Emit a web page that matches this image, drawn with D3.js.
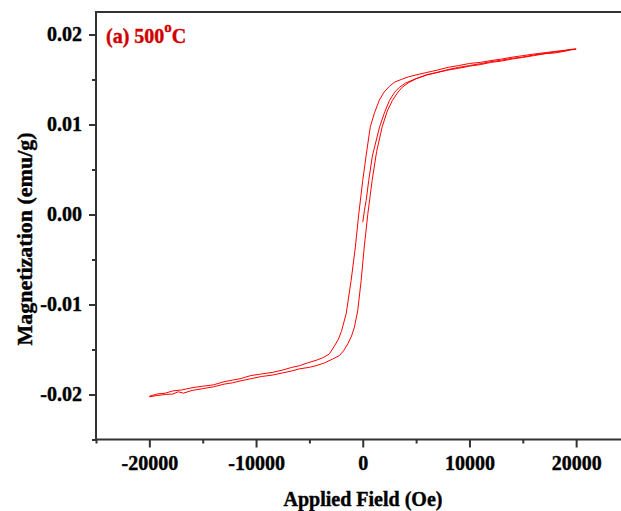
<!DOCTYPE html>
<html>
<head>
<meta charset="utf-8">
<script src="https://cdn.jsdelivr.net/npm/d3@7"></script>
<style>
  html, body { margin: 0; padding: 0; background: #fff; }
  svg { display: block; }
</style>
</head>
<body>
<svg id="chart" width="621" height="511"></svg>
<script>
/* ---- data: M(H) loop, H in Oe, M in emu/g ---- */
const initialCurve = [
  [0, -0.00086], [150, 0.0004], [320, 0.00156], [560, 0.00378], [900, 0.0065],
  [1570, 0.0097], [2000, 0.0112], [2500, 0.01267], [3000, 0.0136], [3440, 0.01414],
  [4000, 0.0146], [5000, 0.0151], [6000, 0.01553], [7000, 0.0158], [8000, 0.0161],
  [9000, 0.01635], [10000, 0.01655], [11000, 0.01675], [12000, 0.01698], [13000, 0.01715],
  [14000, 0.01735], [15000, 0.0175], [16000, 0.01772], [17000, 0.01788], [18000, 0.01805],
  [19000, 0.01822], [20000, 0.0184]
];

const descendingBranch = [
  [20000, 0.01838], [19500, 0.01835], [18800, 0.01822], [18000, 0.01812], [17200, 0.018],
  [16000, 0.01782], [15000, 0.01765], [14000, 0.01748], [13000, 0.01727], [12000, 0.0171],
  [11000, 0.0169], [10000, 0.01678], [9000, 0.01655], [8000, 0.01635], [7000, 0.01605],
  [6000, 0.01578], [5000, 0.01551], [4300, 0.0153], [3600, 0.015], [3000, 0.01472],
  [2500, 0.01425], [2000, 0.0136], [1550, 0.0127], [1100, 0.0113], [700, 0.0097],
  [300, 0.0064], [0, 0.00378], [-380, 0.0], [-700, -0.0037], [-1090, -0.00733],
  [-1550, -0.011], [-2000, -0.013], [-2300, -0.0139], [-2700, -0.0147], [-3120, -0.01548],
  [-3700, -0.0159], [-4370, -0.0162], [-5200, -0.0165], [-5930, -0.0168], [-6700, -0.017],
  [-7500, -0.01728], [-8500, -0.01755], [-9500, -0.01772], [-10500, -0.0179], [-11500, -0.01825],
  [-12200, -0.0184], [-13000, -0.01858], [-14000, -0.01893], [-15000, -0.01908], [-16000, -0.01925],
  [-17000, -0.0195], [-17800, -0.0196], [-18500, -0.01985], [-19300, -0.01995], [-20000, -0.0202]
];

const ascendingBranch = [
  [-20000, -0.02025], [-19200, -0.0201], [-18500, -0.02], [-17800, -0.01995], [-17300, -0.0197],
  [-16800, -0.01985], [-16000, -0.01955], [-15000, -0.01935], [-14000, -0.01915], [-13000, -0.01885],
  [-12200, -0.0187], [-11500, -0.0185], [-10500, -0.01825], [-9500, -0.018], [-8500, -0.01785],
  [-7500, -0.0176], [-6700, -0.0174], [-5930, -0.01715], [-5000, -0.01698], [-4370, -0.0168],
  [-3600, -0.0165], [-2800, -0.01605], [-2180, -0.01567], [-1800, -0.01515], [-1400, -0.01437],
  [-1050, -0.0135], [-780, -0.01252], [-470, -0.01067], [-150, -0.00733], [150, -0.0035],
  [470, 0.0], [880, 0.00378], [1300, 0.007], [1810, 0.0097], [2300, 0.0115],
  [2780, 0.01267], [3300, 0.0136], [3700, 0.01414], [4300, 0.01465], [4990, 0.01508],
  [6000, 0.0155], [7250, 0.01585], [8000, 0.01605], [9000, 0.01625], [10000, 0.01648],
  [11000, 0.01665], [12000, 0.0169], [13000, 0.01705], [14000, 0.01728], [15000, 0.01745],
  [16000, 0.01765], [17200, 0.01788], [18000, 0.01795], [19000, 0.01815], [19500, 0.0183],
  [20000, 0.01835]
];

const xMajorTicks = [-20000, -10000, 0, 10000, 20000];
const xMinorTicks = [-25000, -15000, -5000, 5000, 15000, 25000];
const yMajorTicks = [-0.02, -0.01, 0.0, 0.01, 0.02];
const yMinorTicks = [-0.025, -0.015, -0.005, 0.005, 0.015];

/* ---- layout ---- */
const svg = d3.select("#chart");
const font = "'Liberation Serif', 'Times New Roman', serif";
const axisColor = "#333";

const x = d3.scaleLinear([-25000, 25000], [96, 629.5]);
const y = d3.scaleLinear([-0.025, 0.0225], [439.5, 12]);

// plain hyphen for negatives, like the original figure
const hyphen = f => v => f(v).replace("\u2212", "-");

/* ---- frame (top line; right side falls outside the picture) ---- */
svg.append("rect")
  .attr("x", x(-25000)).attr("y", y(0.0225))
  .attr("width", x(25000) - x(-25000))
  .attr("height", y(-0.025) - y(0.0225))
  .attr("fill", "none")
  .attr("stroke", axisColor)
  .attr("stroke-width", 2);

/* ---- axes ---- */
const styleAxis = g => {
  g.select(".domain").remove();
  g.selectAll("line").attr("stroke", axisColor).attr("stroke-width", 2);
  g.selectAll("text")
    .attr("font-family", font)
    .attr("font-weight", "bold")
    .attr("font-size", 20)
    .attr("fill", "#000")
    .attr("stroke", "#000")
    .attr("stroke-width", 0.4);
};

svg.append("g")
  .attr("transform", `translate(0,${y(-0.025)})`)
  .call(d3.axisBottom(x).tickValues(xMajorTicks).tickSize(8).tickPadding(8)
    .tickFormat(hyphen(d3.format("d"))))
  .call(styleAxis);

svg.append("g")
  .attr("transform", `translate(0,${y(-0.025)})`)
  .call(d3.axisBottom(x).tickValues(xMinorTicks).tickSize(4).tickFormat(""))
  .call(styleAxis);

svg.append("g")
  .attr("transform", `translate(${x(-25000)},0)`)
  .call(d3.axisLeft(y).tickValues(yMajorTicks).tickSize(7).tickPadding(7)
    .tickFormat(hyphen(d3.format(".2f"))))
  .call(styleAxis);

svg.append("g")
  .attr("transform", `translate(${x(-25000)},0)`)
  .call(d3.axisLeft(y).tickValues(yMinorTicks).tickSize(4).tickFormat(""))
  .call(styleAxis);

/* ---- axis titles ---- */
svg.append("text")
  .attr("x", 363).attr("y", 506)
  .attr("text-anchor", "middle")
  .attr("font-family", font).attr("font-weight", "bold").attr("font-size", 20)
  .attr("stroke", "#000").attr("stroke-width", 0.4)
  .text("Applied Field (Oe)");

svg.append("text")
  .attr("transform", "translate(32,239) rotate(-90)")
  .attr("text-anchor", "middle")
  .attr("font-family", font).attr("font-weight", "bold").attr("font-size", 22)
  .attr("stroke", "#000").attr("stroke-width", 0.4)
  .text("Magnetization (emu/g)");

/* ---- curves ---- */
svg.append("clipPath").attr("id", "plot-clip")
  .append("rect")
  .attr("x", x(-25000)).attr("y", y(0.0225))
  .attr("width", x(25000) - x(-25000))
  .attr("height", y(-0.025) - y(0.0225));

const line = d3.line().x(d => x(d[0])).y(d => y(d[1]));

svg.append("g")
  .attr("clip-path", "url(#plot-clip)")
  .selectAll("path")
  .data([initialCurve, descendingBranch, ascendingBranch])
  .join("path")
    .attr("d", line)
    .attr("fill", "none")
    .attr("stroke", "#ff0000")
    .attr("stroke-width", 1)
    .attr("stroke-linejoin", "round");

/* ---- panel label ---- */
const label = svg.append("text")
  .attr("x", 106).attr("y", 43)
  .attr("font-family", font).attr("font-weight", "bold").attr("font-size", 20)
  .attr("fill", "#d00000").attr("stroke", "#d00000").attr("stroke-width", 0.4);
label.append("tspan").text("(a) 500");
label.append("tspan").attr("font-size", 15).attr("dy", -11).text("o");
label.append("tspan").attr("dy", 11).text("C");
</script>
</body>
</html>
